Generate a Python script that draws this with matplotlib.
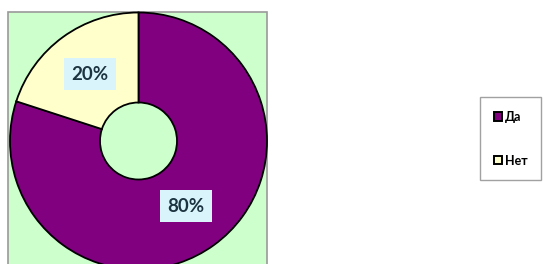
import matplotlib
matplotlib.use("Agg")
import matplotlib.pyplot as plt
from matplotlib.patches import Rectangle, Patch

categories = ["Да", "Нет"]
values = [80, 20]
labels = ["80%", "20%"]
colors = ["#800080", "#ffffcc"]

W, H = 548, 264
fig = plt.figure(figsize=(W / 100, H / 100), dpi=100)
ax = fig.add_axes([0, 0, 1, 1])
ax.set_xlim(0, W)
ax.set_ylim(0, H)
ax.set_axis_off()

# plot area background
ax.add_patch(Rectangle((8, -10), 259, H - 12 + 10, facecolor="#ccffcc",
                       edgecolor="#9a9a9a", linewidth=1.2, zorder=0))

cx, cy, R, r = 138.5, H - 141, 128.5, 38.5
wedges, _ = ax.pie(values, colors=colors, startangle=90, counterclock=False,
                   center=(cx, cy), radius=R, frame=True,
                   wedgeprops=dict(width=R - r, edgecolor="black", linewidth=1.3))
ax.set_xlim(0, W)
ax.set_ylim(0, H)
ax.set_aspect("auto")
ax.set_axis_off()

label_pos = [(186, H - 206), (90, H - 74)]
for (x, y), t in zip(label_pos, labels):
    ax.text(x, y, t, ha="center", va="center", fontsize=13.5, fontweight="bold",
            family="Lato", color="#1c3440",
            bbox=dict(boxstyle="square,pad=0.38", facecolor="#d9f4fa", edgecolor="none"))

handles = [Patch(facecolor=c, edgecolor="black", linewidth=1.4) for c in colors]
leg = ax.legend(handles, categories, loc="upper left",
                bbox_to_anchor=(480 / W, 1 - 97 / H), bbox_transform=fig.transFigure,
                borderaxespad=0, frameon=True, fancybox=False, shadow=False,
                prop=dict(family="Lato", weight="bold", size=9),
                handlelength=0.65, handleheight=0.65, handletextpad=0.25,
                labelspacing=2.55, borderpad=1.1)
leg.get_frame().set_edgecolor("#8a8a8a")
leg.get_frame().set_linewidth(1.0)

fig.savefig("out.png", dpi=100, facecolor="white")
